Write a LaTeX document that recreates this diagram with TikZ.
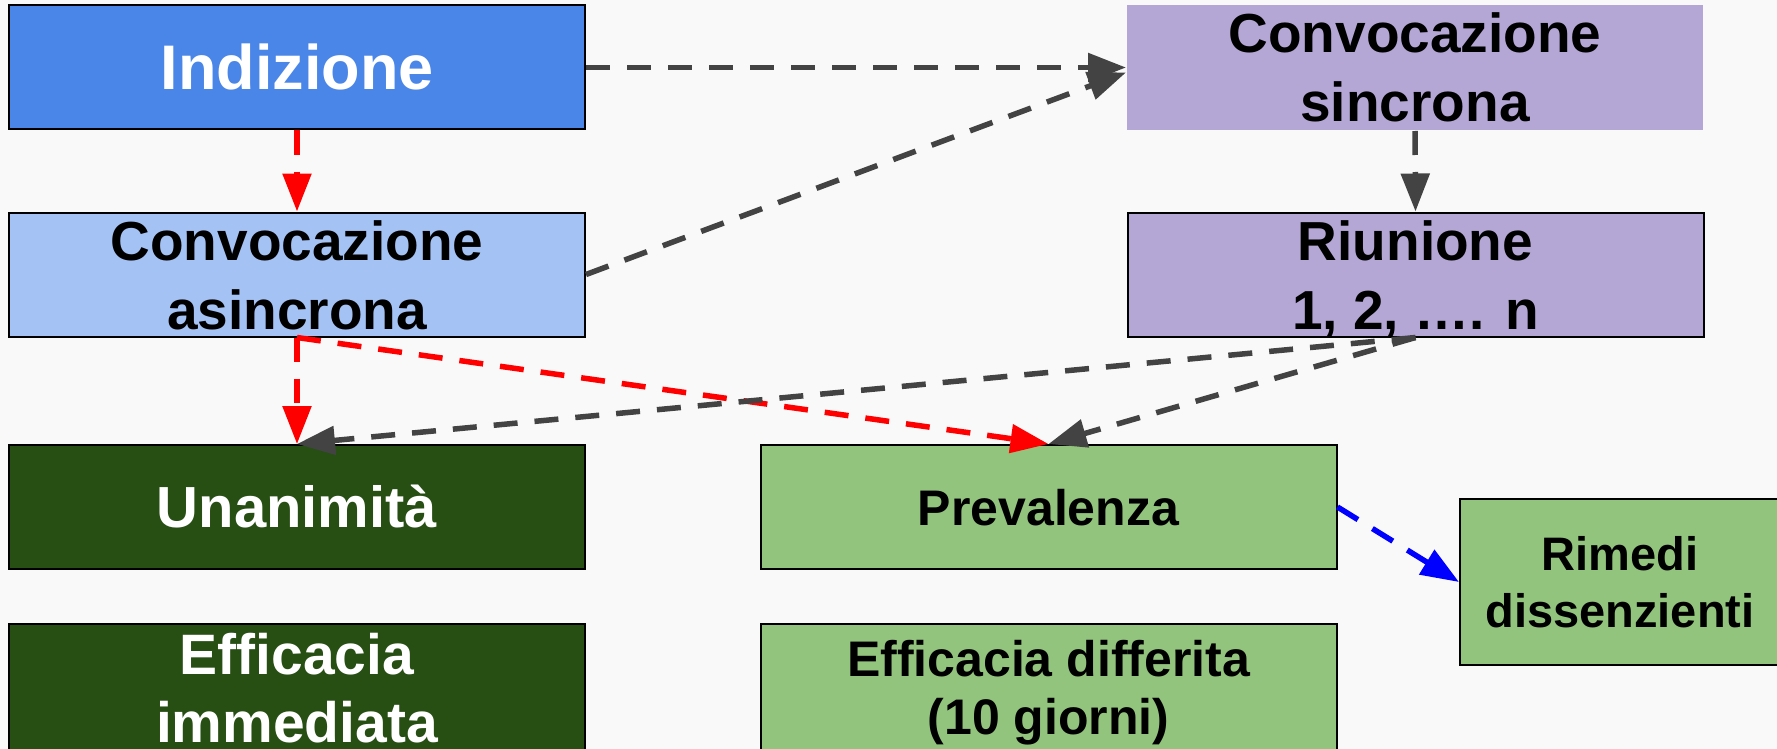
\documentclass[tikz,border=0pt]{standalone}
\usepackage{fontspec}
\setmainfont{Liberation Sans}
\usepackage{xcolor}
\usepackage{tikz}
\usetikzlibrary{arrows.meta}

\definecolor{bgcol}{HTML}{F9F9F9}
\definecolor{indblue}{HTML}{4A86E8}
\definecolor{asinblue}{HTML}{A4C2F4}
\definecolor{lilac}{HTML}{B4A7D6}
\definecolor{darkgreen}{HTML}{274E13}
\definecolor{lightgreen}{HTML}{93C47D}
\definecolor{arrowgray}{HTML}{434343}

\tikzset{
    box/.style={
        draw=black,
        line width=2pt,
        rectangle,
        minimum width=576pt,
        minimum height=124pt,
        inner sep=0pt,
        align=center,
        font=\bfseries\fontsize{55}{69}\selectfont,
        text height=40pt,
        text depth=0pt
    },
    link/.style={
        line width=5.5pt,
        dash pattern=on 24pt off 17pt,
        -{Triangle[length=38pt, width=28pt]}
    }
}

\begin{document}
\begin{tikzpicture}[x=1pt, y=-1pt]
    \useasboundingbox (0,0) rectangle (1777,749);
    \fill[bgcol] (0,0) rectangle (1777,749);

    \node[box, fill=indblue, text=white, font=\bfseries\fontsize{63}{76}\selectfont, text height=45pt] (indiz) at (297,67.5) {Indizione};
    \node[box, fill=lilac, draw=none, minimum height=125pt, text height=108pt] (sinc) at (1415,67.5) {Convocazione\\sincrona};
    \node[box, fill=asinblue, text height=109pt] (asinc) at (297,274.5) {Convocazione\\asincrona};
    \node[box, fill=lilac, text height=109pt] (riun) at (1415.5,274.5) {Riunione\\1, 2, …. n};
    \node[box, fill=darkgreen, text=white, font=\bfseries\fontsize{58}{68}\selectfont, text height=41.5pt] (unan) at (297,507) {Unanimità};
    \node[box, fill=lightgreen, font=\bfseries\fontsize{50}{58}\selectfont, text height=36pt] (prev) at (1048.5,507) {Prevalenza};
    \node[box, fill=lightgreen, minimum width=320pt, minimum height=166pt, font=\bfseries\fontsize{47}{57}\selectfont, text height=91pt] (rimedi) at (1620,582) {Rimedi\\dissenzienti};
    \node[box, fill=darkgreen, text=white, minimum height=127pt, font=\bfseries\fontsize{57}{68}\selectfont, text height=109pt] (effimm) at (297,687.5) {Efficacia\\immediata};
    \node[box, fill=lightgreen, minimum height=127pt, font=\bfseries\fontsize{50}{58}\selectfont, text height=94pt] (effdiff) at (1048.5,687.5) {Efficacia differita\\(10 giorni)};

    \draw[link, arrowgray] (indiz.east) -- (sinc.west);
    \draw[link, red] (indiz.south) -- (asinc.north);
    \draw[link, arrowgray] (asinc.east) -- ([yshift=-5pt]sinc.west);
    \draw[link, arrowgray] (sinc.south) -- (riun.north);
    \draw[link, red] (asinc.south) -- (unan.north);
    \draw[link, red] (asinc.south) -- (prev.north);
    \draw[link, arrowgray] (riun.south) -- (unan.north);
    \draw[link, arrowgray] (riun.south) -- (prev.north);
    \draw[link, blue] (prev.east) -- (rimedi.west);
\end{tikzpicture}
\end{document}
